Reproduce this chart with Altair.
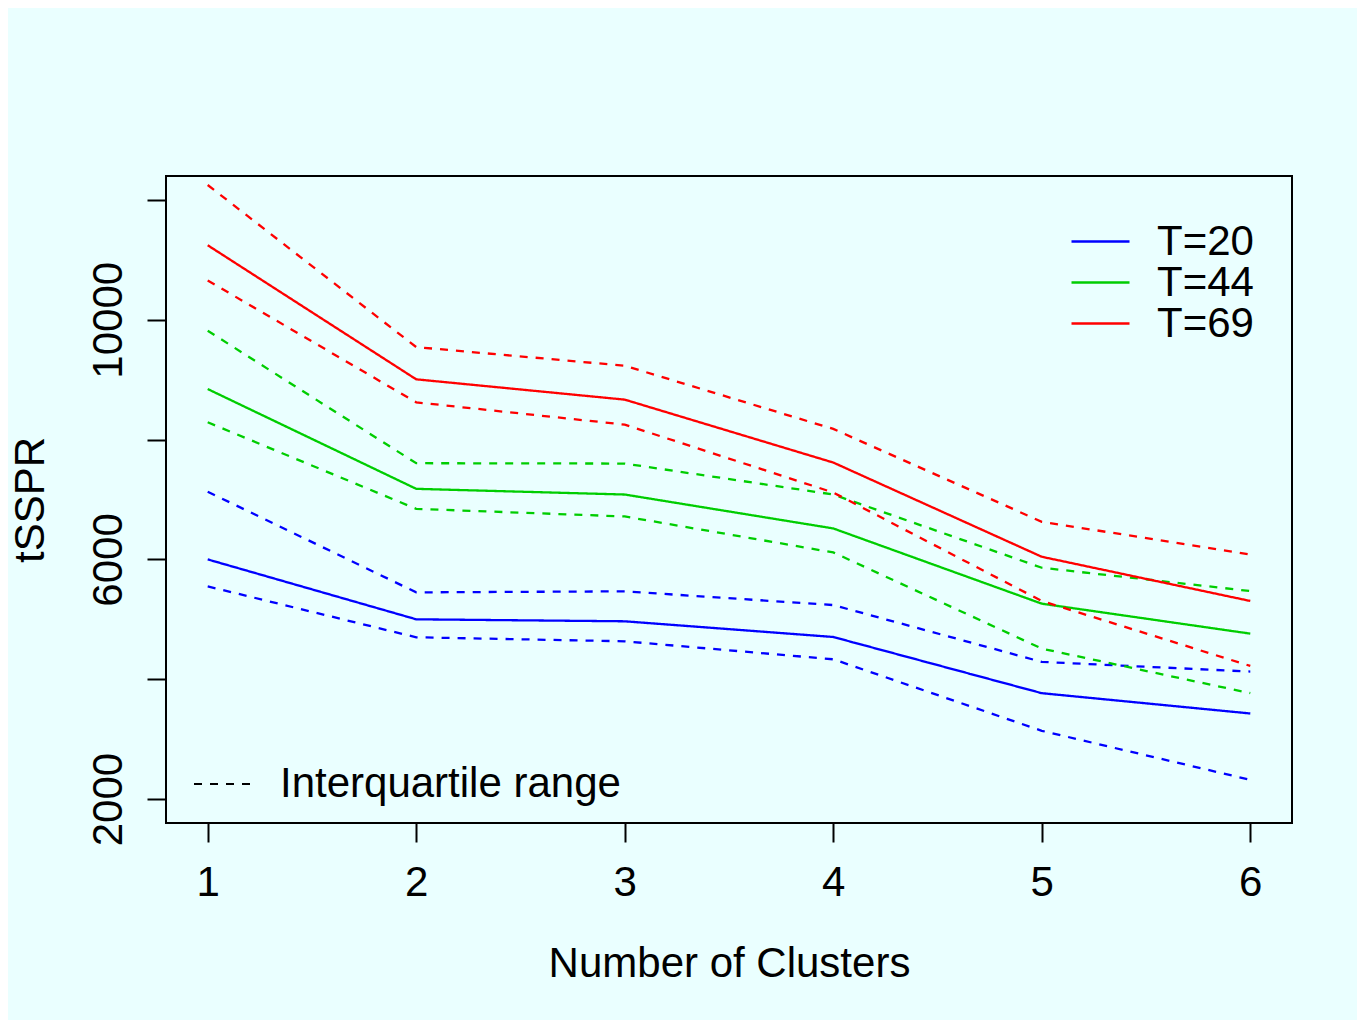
import altair as alt
import pandas as pd

clusters = [1, 2, 3, 4, 5, 6]

t20_median = [6000, 5000, 4967, 4705, 3767, 3428]
t20_q3 = [7130, 5450, 5467, 5238, 4289, 4128]
t20_q1 = [5550, 4700, 4633, 4333, 3139, 2320]

t44_median = [8844, 7178, 7083, 6517, 5261, 4761]
t44_q3 = [9817, 7606, 7600, 7083, 5861, 5472]
t44_q1 = [8289, 6844, 6717, 6117, 4511, 3767]

t69_median = [11244, 9006, 8667, 7617, 6044, 5306]
t69_q3 = [12250, 9544, 9233, 8178, 6628, 6083]
t69_q1 = [10656, 8622, 8250, 7117, 5306, 4222]

series_names = ["T=20", "T=44", "T=69"]
series_colors = ["#0000FF", "#00CD00", "#FF0000"]
y_ticks = [2000, 4000, 6000, 8000, 10000, 12000]
y_labelled = [2000, 6000, 10000]

rows = []
for name, med, q3, q1 in [
    ("T=20", t20_median, t20_q3, t20_q1),
    ("T=44", t44_median, t44_q3, t44_q1),
    ("T=69", t69_median, t69_q3, t69_q1),
]:
    for kind, vals, part in [("Median", med, "m"), ("Interquartile range", q3, "u"),
                             ("Interquartile range", q1, "l")]:
        for c, v in zip(clusters, vals):
            rows.append({"cluster": c, "value": v, "T": name, "kind": kind,
                         "line": name + part})
df = pd.DataFrame(rows)

FONT = "Liberation Sans"
FS = 42

label_test = " || ".join(f"datum.value == {v}" for v in y_labelled)

chart = alt.Chart(df).mark_line(strokeWidth=2.3, clip=True).encode(
    x=alt.X("cluster:Q",
            scale=alt.Scale(domain=[0.8, 6.2], nice=False, zero=False),
            axis=alt.Axis(values=clusters, format="d", title="Number of Clusters",
                          grid=False, domain=False, tickSize=19, tickWidth=2,
                          tickColor="black", labelFontSize=FS, labelColor="black",
                          labelFont=FONT, labelPadding=20, labelFlush=False,
                          titleFontSize=FS, titleFont=FONT, titleFontWeight="normal",
                          titleColor="black", titlePadding=40)),
    y=alt.Y("value:Q",
            scale=alt.Scale(domain=[1600, 12400], nice=False, zero=False),
            axis=alt.Axis(values=y_ticks, format="d", title="tSSPR",
                          labelExpr=f"({label_test}) ? datum.label : ''",
                          grid=False, domain=False, tickSize=19, tickWidth=2,
                          tickColor="black", labelFontSize=FS, labelColor="black",
                          labelFont=FONT, labelAngle=270, labelAlign="center",
                          labelBaseline="bottom", labelPadding=17, labelFlush=False,
                          labelOverlap=False,
                          titleFontSize=FS, titleFont=FONT, titleFontWeight="normal",
                          titleColor="black", titlePadding=35, titleAngle=270)),
    color=alt.Color("T:N",
                    scale=alt.Scale(domain=series_names, range=series_colors),
                    legend=alt.Legend(title=None, orient="none", legendX=904, legendY=48,
                                      symbolType="stroke", symbolSize=3364,
                                      symbolStrokeWidth=2.3, labelFontSize=FS,
                                      labelFont=FONT, labelColor="black", labelLimit=1000,
                                      labelOffset=26, clipHeight=35, rowPadding=-2,
                                      padding=0)),
    strokeDash=alt.StrokeDash("kind:N",
                              scale=alt.Scale(domain=["Median", "Interquartile range"],
                                              range=[[1, 0], [8, 8]]),
                              legend=alt.Legend(title=None, orient="none", legendX=27,
                                                legendY=578, values=["Interquartile range"],
                                                symbolType="stroke", symbolSize=3364,
                                                symbolStrokeWidth=2, symbolStrokeColor="black",
                                                labelFontSize=FS, labelFont=FONT,
                                                labelColor="black", labelOffset=27,
                                                labelLimit=1000, padding=0)),
    detail="line:N",
).properties(
    width=1126,
    height=647,
    background="#EAFFFF",
    padding={"left": 158, "top": 168, "right": 65, "bottom": 197},
    autosize=alt.AutoSizeParams(type="none"),
).configure_view(
    stroke="black", strokeWidth=2, fill="#EAFFFF"
)

chart.save("out.html", embed_options={"renderer": "svg", "actions": False})
